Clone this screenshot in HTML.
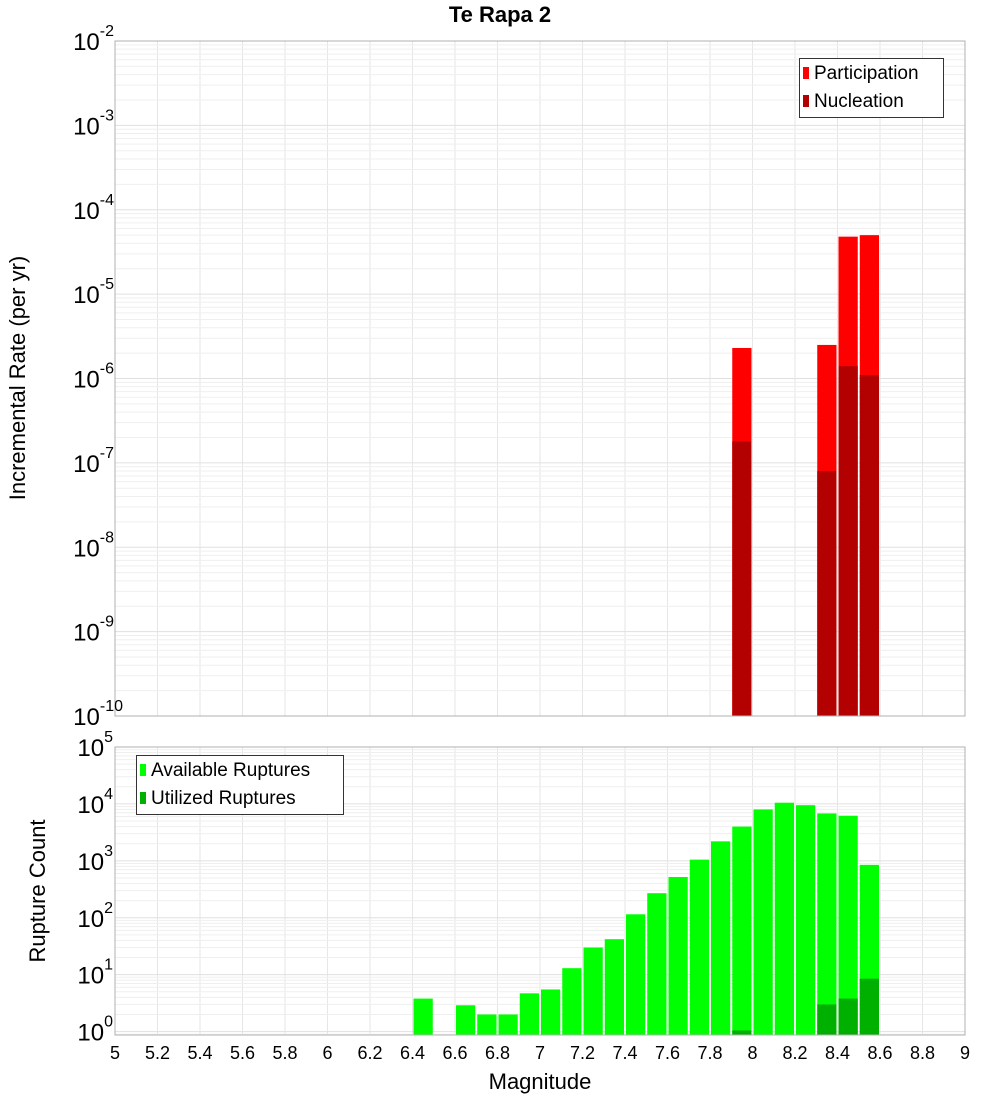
<!DOCTYPE html>
<html><head><meta charset="utf-8"><style>
body{margin:0;background:#fff;}
svg{display:block;font-family:"Liberation Sans","DejaVu Sans",sans-serif;}
</style></head><body>
<svg id="c" width="1000" height="1100" viewBox="0 0 1000 1100"></svg>
<script>
const bins=[6.45,6.65,6.75,6.85,6.95,7.05,7.15,7.25,7.35,7.45,7.55,7.65,7.75,7.85,7.95,8.05,8.15,8.25,8.35,8.45,8.55];
const available=[3.8,2.9,2,2,4.7,5.5,13,30,42,115,270,520,1050,2200,4000,8000,10500,9500,6800,6200,850];
const utilBins=[7.95,8.35,8.45,8.55];
const utilized=[1.05,3,3.8,8.5];
const rateBins=[7.95,8.35,8.45,8.55];
const participation=[2.3e-6,2.5e-6,4.8e-5,5e-5];
const nucleation=[1.8e-7,8e-8,1.4e-6,1.1e-6];
const xTicks=[5,5.2,5.4,5.6,5.8,6,6.2,6.4,6.6,6.8,7,7.2,7.4,7.6,7.8,8,8.2,8.4,8.6,8.8,9];
const topExps=[-10,-9,-8,-7,-6,-5,-4,-3,-2];
const botExps=[0,1,2,3,4,5];

const NS="http://www.w3.org/2000/svg";
const svg=document.getElementById('c');
function mk(tag,attrs,parent){const e=document.createElementNS(NS,tag);for(const k in attrs)e.setAttribute(k,attrs[k]);(parent||svg).appendChild(e);return e;}
const X0=115,X1=965;
const x=m=>X0+(m-5)/4*(X1-X0);
const T0=41,T1=716;
const yTop=v=>T0+(-2-Math.log10(v))/8*(T1-T0);
const B0=747,B1=1035,BMIN=-0.06;
const yBot=v=>B0+(5-Math.log10(v))/(5-BMIN)*(B1-B0);
const bw=0.1*(X1-X0)/4;

function grid(y0,y1,yf,e0,e1){
  const g=mk('g',{});
  
  
  for(const t of xTicks){mk('line',{x1:x(t),x2:x(t),y1:y0,y2:y1,stroke:'#e6e6e6','stroke-width':1},g);}
  for(let e=e0;e<e1;e++){for(let k=1;k<10;k++){const yy=yf(k*Math.pow(10,e));if(yy<y0||yy>y1)continue;mk('line',{x1:X0,x2:X1,y1:yy,y2:yy,stroke:k==1?'#e0e0e0':'#efefef','stroke-width':1},g);}}
}
grid(T0,T1,yTop,-10,-2);
grid(B0,B1,yBot,-1,5);

// top bars
rateBins.forEach((m,i)=>{
  const r=mk('rect',{x:x(m)-bw/2+1,width:bw-2,y:yTop(participation[i]),height:T1-yTop(participation[i]),fill:'#ff0000'});
  
  
  const n=mk('rect',{x:x(m)-bw/2+1,width:bw-2,y:yTop(nucleation[i]),height:T1-yTop(nucleation[i]),fill:'#b30000'});
  
  
});
bins.forEach((m,i)=>{
  const r=mk('rect',{x:x(m)-bw/2+1,width:bw-2,y:yBot(available[i]),height:B1-yBot(available[i]),fill:'#00ff00'});
  
  
});
utilBins.forEach((m,i)=>{
  const r=mk('rect',{x:x(m)-bw/2+1,width:bw-2,y:yBot(utilized[i]),height:B1-yBot(utilized[i]),fill:'#00b000'});
  
  
});
mk('rect',{x:X0,y:T0,width:X1-X0,height:T1-T0,fill:'none',stroke:'#b0b0b0'});
mk('rect',{x:X0,y:B0,width:X1-X0,height:B1-B0,fill:'none',stroke:'#b0b0b0'});

// y tick labels
function ylab(e,yy){
  const t=mk('text',{x:104,y:yy+9,'text-anchor':'end','font-size':24,fill:'#000'});
  
  
  t.textContent='10';
  const s=mk('tspan',{dy:-14,'font-size':16},t);s.textContent=String(e);
  const tw=String(e).length*9;
  t.setAttribute('x',104+tw-(e<0?14:0)+(e<0?6:0));
}
topExps.forEach(e=>ylab(e,yTop(Math.pow(10,e))));
botExps.forEach(e=>ylab(e,yBot(Math.pow(10,e))));
xTicks.forEach(t=>{
  const l=mk('text',{x:x(t),y:1059,'text-anchor':'middle','font-size':18,fill:'#000'});
  
  
  l.textContent=String(t);
});
</script>
<svg width="0" height="0"></svg>
<div style="position:absolute;left:0;top:0;width:1000px;height:1100px;pointer-events:none;font-family:'Liberation Sans','DejaVu Sans',sans-serif;">
<div style="position:absolute;left:0;width:1000px;top:2px;text-align:center;font-weight:bold;font-size:22px;">Te Rapa 2</div>
<div style="position:absolute;left:18px;top:378px;transform:translate(-50%,-50%) rotate(-90deg);white-space:nowrap;font-size:22px;">Incremental Rate (per yr)</div>
<div style="position:absolute;left:38px;top:891px;transform:translate(-50%,-50%) rotate(-90deg);white-space:nowrap;font-size:22px;">Rupture Count</div>
<div style="position:absolute;left:0;width:1080px;top:1069px;text-align:center;font-size:22px;">Magnitude</div>
<div style="position:absolute;left:799px;top:58px;width:143px;height:58px;border:1px solid #333;background:#fff;font-size:19px;">
 <div style="position:absolute;left:3px;top:4px;"><span style="display:inline-block;width:6px;height:12px;background:#f00;margin-right:5px;"></span>Participation</div>
 <div style="position:absolute;left:3px;top:32px;"><span style="display:inline-block;width:6px;height:12px;background:#b30000;margin-right:5px;"></span>Nucleation</div>
</div>
<div style="position:absolute;left:136px;top:755px;width:206px;height:58px;border:1px solid #333;background:#fff;font-size:19px;">
 <div style="position:absolute;left:3px;top:4px;"><span style="display:inline-block;width:6px;height:12px;background:#0f0;margin-right:5px;"></span>Available Ruptures</div>
 <div style="position:absolute;left:3px;top:32px;"><span style="display:inline-block;width:6px;height:12px;background:#00b000;margin-right:5px;"></span>Utilized Ruptures</div>
</div>
</div>
</body></html>
